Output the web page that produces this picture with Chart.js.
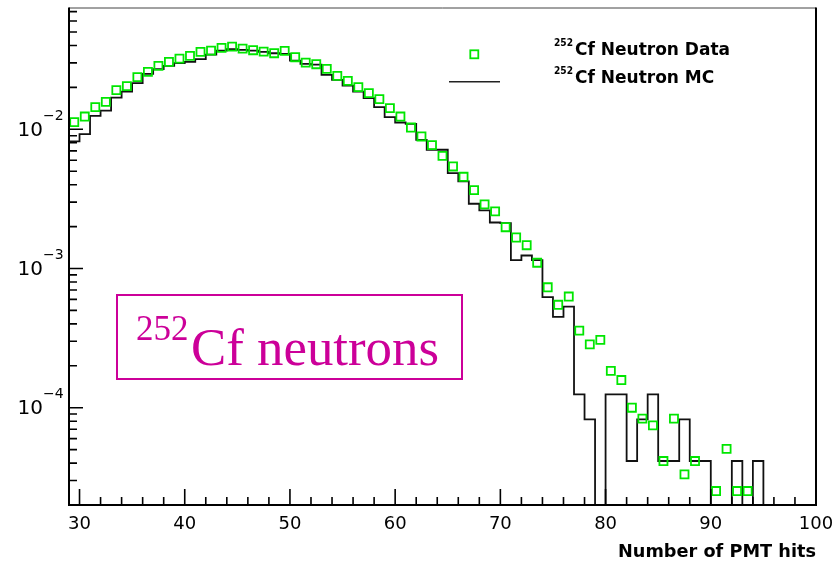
<!DOCTYPE html>
<html>
<head>
<meta charset="utf-8">
<script src="https://cdn.jsdelivr.net/npm/chart.js@4.4.0/dist/chart.umd.min.js"></script>
<style>
  body { margin: 0; background: #fff; }
  canvas { display: block; }
</style>
</head>
<body>
<canvas id="pmtChart" width="839" height="562"></canvas>
<script>
// bins of width 1 starting at 29 hits; values per bin (normalised)
var firstBin = 29;
var lastEdge = 100;

// 252Cf neutron data (markers at bin centres), null = empty bin
var dataValues = [
    0.01126, 0.01235, 0.01443, 0.01575, 0.01911, 0.02041, 0.02368, 0.02585, 0.02854, 0.03049,
    0.03220, 0.03367, 0.03597, 0.03675, 0.03843, 0.03926, 0.03798, 0.03699, 0.03614, 0.03520,
    0.03656, 0.03295, 0.03014, 0.02936, 0.02716, 0.02419, 0.02228, 0.02008, 0.01818, 0.01647,
    0.01419, 0.01235, 0.01030, 0.00888, 0.00770, 0.00645, 0.00541, 0.00456, 0.00366, 0.00289,
    0.00257, 0.00198, 0.00167, 0.00147, 0.00110, 0.000733, 0.000549, 0.000629, 0.000358, 0.000285,
    0.000307, 0.000184, 0.000158, 0.000100, 8.34e-5, 7.46e-5, 4.14e-5, 8.34e-5, 3.32e-5, 4.14e-5,
    null, 2.52e-5, 5.06e-5, 2.52e-5, 2.52e-5, null, null, null, null, null,
    null
];

// 252Cf neutron MC histogram, one value per bin (0 = empty)
var mcValues = [
    0.00818, 0.00924, 0.01250, 0.01364, 0.01691, 0.01867, 0.02145, 0.02501, 0.02703, 0.02854,
    0.02985, 0.03049, 0.03189, 0.03440, 0.03675, 0.03760, 0.03717, 0.03675, 0.03597, 0.03520,
    0.03480, 0.03116, 0.02951, 0.02917, 0.02460, 0.02265, 0.02061, 0.01867, 0.01674, 0.01443,
    0.01224, 0.01119, 0.01095, 0.00841, 0.00713, 0.00713, 0.00485, 0.00422, 0.00292, 0.00262,
    0.00214, 0.00212, 0.00115, 0.00124, 0.00115, 0.000622, 0.000450, 0.000533, 1.246e-4, 8.24e-5,
    0, 1.246e-4, 1.246e-4, 4.14e-5, 8.24e-5, 1.246e-4, 4.14e-5, 4.14e-5, 8.24e-5, 4.14e-5,
    4.14e-5, 0, 0, 4.14e-5, 0, 4.14e-5, 0, 0, 0, 0,
    0
];

var xTickLabels = ['30', '40', '50', '60', '70', '80', '90', '100'];
var yDecades = [-4, -3, -2];

var dataLabel = 'Cf Neutron Data';
var mcLabel = 'Cf Neutron MC';
var isotope = '252';
var boxText = 'Cf neutrons';
var xTitle = 'Number of PMT hits';

var GREEN = '#00e600';
var MAGENTA = '#cc0099';
var EMPTY = 1e-7; // empty bins drop below the axis on the log scale

// build points
var dataPoints = [];
for (var i = 0; i < dataValues.length; i++) {
    if (dataValues[i] !== null) {
        dataPoints.push({ x: firstBin + i + 0.5, y: dataValues[i] });
    }
}
var mcPoints = [];
for (var j = 0; j < mcValues.length; j++) {
    mcPoints.push({ x: firstBin + j, y: mcValues[j] > 0 ? mcValues[j] : EMPTY });
}
mcPoints.push({ x: lastEdge, y: mcPoints[mcPoints.length - 1].y });

// frame, inward ticks, labels, legend and text box
var decorations = {
    id: 'decorations',
    afterDraw: function (chart) {
        var ctx = chart.ctx;
        var area = chart.chartArea;
        var xs = chart.scales.x;
        var ys = chart.scales.y;
        ctx.save();

        // frame
        ctx.strokeStyle = '#444';
        ctx.lineWidth = 1;
        ctx.beginPath();
        ctx.moveTo(area.left, area.top + 0.5);
        ctx.lineTo(area.right, area.top + 0.5);
        ctx.stroke();
        ctx.strokeStyle = '#000';
        ctx.lineWidth = 2;
        ctx.beginPath();
        ctx.moveTo(area.left, area.top);
        ctx.lineTo(area.left, area.bottom);
        ctx.lineTo(area.right, area.bottom);
        ctx.lineTo(area.right, area.top);
        ctx.stroke();

        // x ticks
        ctx.lineWidth = 1.6;
        ctx.beginPath();
        for (var v = 30; v < 100; v += 2) {
            var px = xs.getPixelForValue(v);
            var len = (v % 10 === 0) ? 16 : 8;
            ctx.moveTo(px, area.bottom);
            ctx.lineTo(px, area.bottom - len);
        }
        ctx.stroke();

        // y ticks
        ctx.beginPath();
        for (var d = -5; d <= -2; d++) {
            for (var m = 1; m <= 9; m++) {
                var val = m * Math.pow(10, d);
                if (val < ys.min || val > ys.max) continue;
                var py = ys.getPixelForValue(val);
                ctx.moveTo(area.left, py);
                ctx.lineTo(area.left + (m === 1 ? 14 : 8), py);
            }
        }
        ctx.stroke();

        // x labels
        ctx.fillStyle = '#000';
        ctx.font = '18px "DejaVu Sans"';
        ctx.textAlign = 'center';
        ctx.textBaseline = 'alphabetic';
        xTickLabels.forEach(function (lab) {
            ctx.fillText(lab, xs.getPixelForValue(Number(lab)), area.bottom + 24);
        });

        // y labels 10^n
        yDecades.forEach(function (n) {
            var py = ys.getPixelForValue(Math.pow(10, n));
            ctx.font = '20px "DejaVu Sans"';
            ctx.textAlign = 'right';
            ctx.textBaseline = 'middle';
            ctx.fillText('10', 43, py + 1);
            ctx.font = '14px "DejaVu Sans"';
            ctx.textAlign = 'left';
            ctx.fillText('\u2212' + Math.abs(n), 43, py - 13);
        });

        // axis title
        ctx.font = 'bold 18px "DejaVu Sans"';
        ctx.textAlign = 'right';
        ctx.textBaseline = 'alphabetic';
        ctx.fillText(xTitle, area.right, 557, 198);

        // legend
        ctx.strokeStyle = GREEN;
        ctx.lineWidth = 1.8;
        ctx.strokeRect(470.3, 50.3, 8, 8);
        ctx.strokeStyle = '#222';
        ctx.lineWidth = 1.6;
        ctx.beginPath();
        ctx.moveTo(449, 81.7);
        ctx.lineTo(500, 81.7);
        ctx.stroke();

        ctx.fillStyle = '#000';
        ctx.textAlign = 'left';
        ctx.font = 'bold 10px "DejaVu Sans"';
        ctx.fillText(isotope, 554, 46, 19);
        ctx.fillText(isotope, 554, 74, 19);
        ctx.font = 'bold 17px "DejaVu Sans"';
        ctx.fillText(dataLabel, 575, 55, 175);
        ctx.fillText(mcLabel, 575, 83, 156);

        // text box
        ctx.strokeStyle = MAGENTA;
        ctx.lineWidth = 2;
        ctx.strokeRect(117, 295, 345, 84);
        ctx.fillStyle = MAGENTA;
        ctx.font = '35px "Liberation Serif"';
        ctx.fillText(isotope, 136, 340, 54);
        ctx.font = '53px "Liberation Serif"';
        ctx.fillText(boxText, 191, 365, 248);

        ctx.restore();
    }
};

var ctx = document.getElementById('pmtChart');
var pmtChart = new Chart(ctx, {
    type: 'scatter',
    data: {
        datasets: [{
            label: isotope + dataLabel,
            data: dataPoints,
            showLine: false,
            pointStyle: 'rect',
            pointRadius: 5.7,
            pointHoverRadius: 5.7,
            pointBorderWidth: 1.8,
            pointBorderColor: GREEN,
            pointBackgroundColor: 'rgba(0,0,0,0)'
        }, {
            label: isotope + mcLabel,
            data: mcPoints,
            showLine: true,
            stepped: true,
            borderColor: '#111',
            borderWidth: 1.8,
            pointRadius: 0,
            fill: false
        }]
    },
    options: {
        responsive: false,
        animation: false,
        layout: {
            padding: { top: 7, right: 23, left: 0, bottom: 0 }
        },
        plugins: {
            legend: { display: false },
            tooltip: { enabled: false }
        },
        scales: {
            x: {
                type: 'linear',
                min: 29,
                max: 100,
                ticks: { display: false },
                grid: { display: false },
                border: { display: false },
                afterFit: function (scale) { scale.height = 57; }
            },
            y: {
                type: 'logarithmic',
                min: 2e-5,
                max: 0.075,
                ticks: { display: false },
                grid: { display: false },
                border: { display: false },
                afterFit: function (scale) { scale.width = 69; }
            }
        }
    },
    plugins: [decorations]
});
</script>
</body>
</html>
